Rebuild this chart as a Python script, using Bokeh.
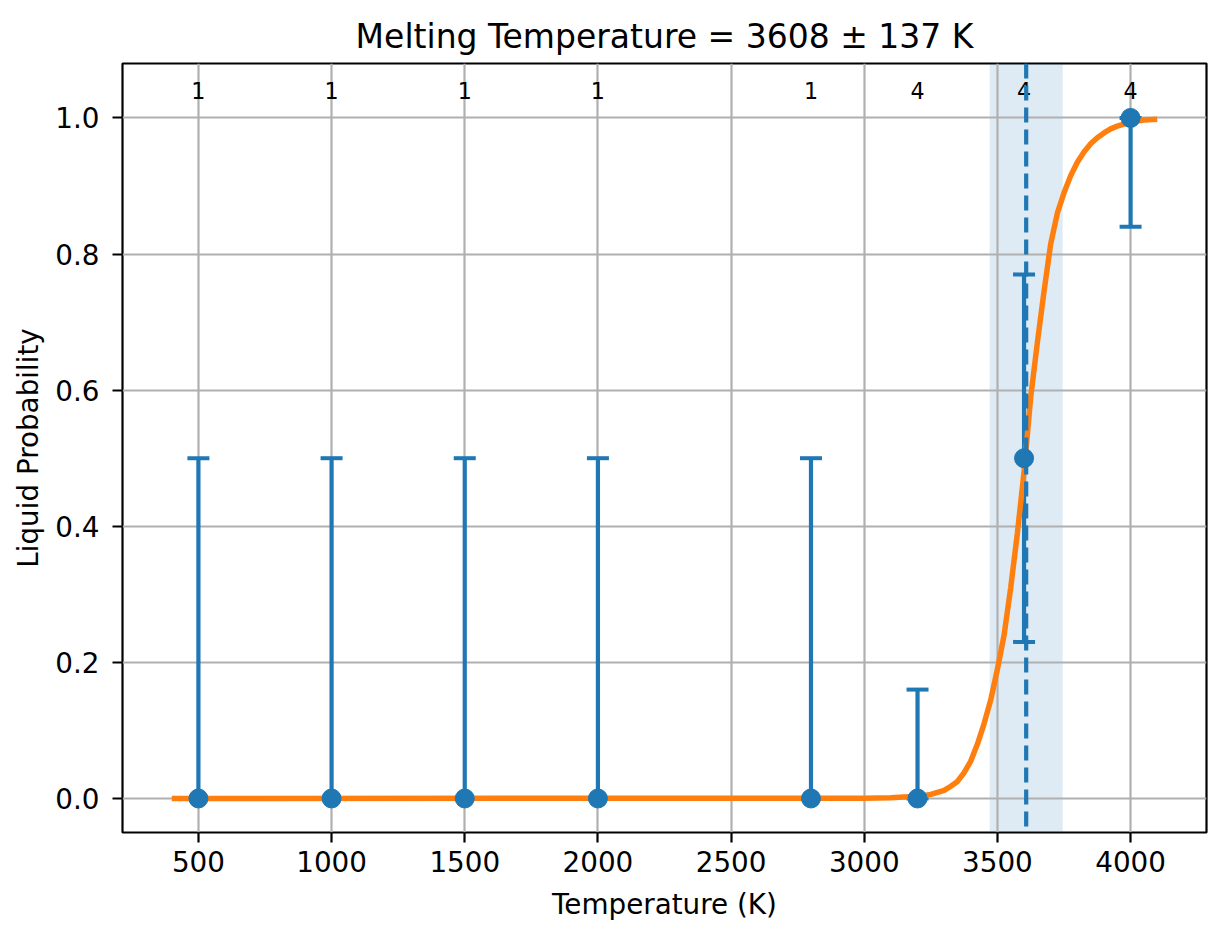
from bokeh.plotting import figure
from bokeh.models import ColumnDataSource, FixedTicker, PrintfTickFormatter, Range1d, Span, BoxAnnotation
from bokeh.core.properties import value
from bokeh.embed import file_html
from bokeh.resources import INLINE

# measured points
temps = [500, 1000, 1500, 2000, 2800, 3200, 3600, 4000]
liquid_prob = [0, 0, 0, 0, 0, 0, 0.5, 1.0]
err_low = [0, 0, 0, 0, 0, 0, 0.23, 0.84]
err_high = [0.5, 0.5, 0.5, 0.5, 0.5, 0.16, 0.77, 1.0]
n_runs = ["1", "1", "1", "1", "1", "4", "4", "4"]

# fitted curve
fit_t = [400, 3000, 3100, 3150, 3200, 3250, 3300, 3325, 3350, 3375, 3400, 3425, 3450, 3475,
         3500, 3525, 3550, 3575, 3600, 3625, 3650, 3675, 3700, 3725, 3750, 3775, 3800,
         3825, 3850, 3875, 3900, 3925, 3950, 4000, 4050, 4100]
fit_p = [0.0, 0.0003, 0.001, 0.002, 0.003, 0.006, 0.012, 0.018, 0.025, 0.038, 0.055, 0.08, 0.11, 0.145,
         0.19, 0.24, 0.31, 0.39, 0.48, 0.59, 0.67, 0.745, 0.815, 0.86, 0.89, 0.915, 0.935,
         0.95, 0.962, 0.971, 0.978, 0.984, 0.988, 0.994, 0.997, 0.998]

t_melt = 3608
t_err = 137

x_ticks = [500, 1000, 1500, 2000, 2500, 3000, 3500, 4000]
y_ticks = [0.0, 0.2, 0.4, 0.6, 0.8, 1.0]

FONT = "DejaVu Sans"
C0 = "#1f77b4"
C1 = "#ff7f0e"

p = figure(frame_width=1084, frame_height=769,
           min_border_left=122, min_border_right=8, min_border_top=63, min_border_bottom=92,
           x_range=Range1d(215, 4285), y_range=Range1d(-0.05, 1.08),
           output_backend="svg", toolbar_location=None,
           title="Melting Temperature = %d \u00b1 %d K" % (t_melt, t_err))

p.title.align = "center"
p.title.text_font = FONT
p.title.text_font_size = "33px"
p.title.text_font_style = "normal"
p.title.text_color = "black"
p.title.standoff = 15
p.outline_line_color = "black"
p.outline_line_width = 2.2
p.background_fill_color = "white"
p.border_fill_color = "white"

for ax in (p.xaxis, p.yaxis):
    ax.axis_line_color = None
    ax.major_tick_out = 10
    ax.major_tick_in = 0
    ax.major_tick_line_width = 2.2
    ax.minor_tick_line_color = None
    ax.major_label_text_font = FONT
    ax.major_label_text_font_size = "27.8px"
    ax.major_label_text_color = "black"
    ax.axis_label_text_font = FONT
    ax.axis_label_text_font_size = "27.8px"
    ax.axis_label_text_font_style = "normal"
    ax.axis_label_text_color = "black"

p.xaxis.ticker = FixedTicker(ticks=x_ticks)
p.yaxis.ticker = FixedTicker(ticks=y_ticks)
p.yaxis.formatter = PrintfTickFormatter(format="%.1f")
p.xaxis.axis_label = "Temperature (K)"
p.yaxis.axis_label = "Liquid Probability"
p.xaxis.major_label_standoff = 8
p.xaxis.axis_label_standoff = 13
p.yaxis.major_label_standoff = 13
p.yaxis.axis_label_standoff = 7

p.grid.grid_line_color = "#b0b0b0"
p.grid.grid_line_width = 2.2

band = BoxAnnotation(left=t_melt - t_err, right=t_melt + t_err, fill_color=C0,
                     fill_alpha=0.15, line_color=None, level="image")
p.add_layout(band)

src = ColumnDataSource(dict(t=temps, p=liquid_prob, lo=err_low, hi=err_high, n=n_runs))

p.segment(x0="t", y0="lo", x1="t", y1="hi", source=src, line_color=C0, line_width=4.2)
p.scatter(x="t", y="lo", source=src, marker="dash", size=22, line_color=C0, line_width=4)
p.scatter(x="t", y="hi", source=src, marker="dash", size=22, line_color=C0, line_width=4)

p.line(fit_t, fit_p, line_color=C1, line_width=5.5)

p.scatter(x="t", y="p", source=src, size=19, fill_color=C0, line_color=C0)

p.add_layout(Span(location=t_melt, dimension="height", line_color=C0,
                  line_width=4.2, line_dash="15 7"))

p.text(x="t", y=1.04, text="n", source=src, text_align="center", text_baseline="alphabetic",
       text_font=value(FONT), text_font_size="22.2px", text_color="black")

open("out.html", "w").write(file_html(p, INLINE))
